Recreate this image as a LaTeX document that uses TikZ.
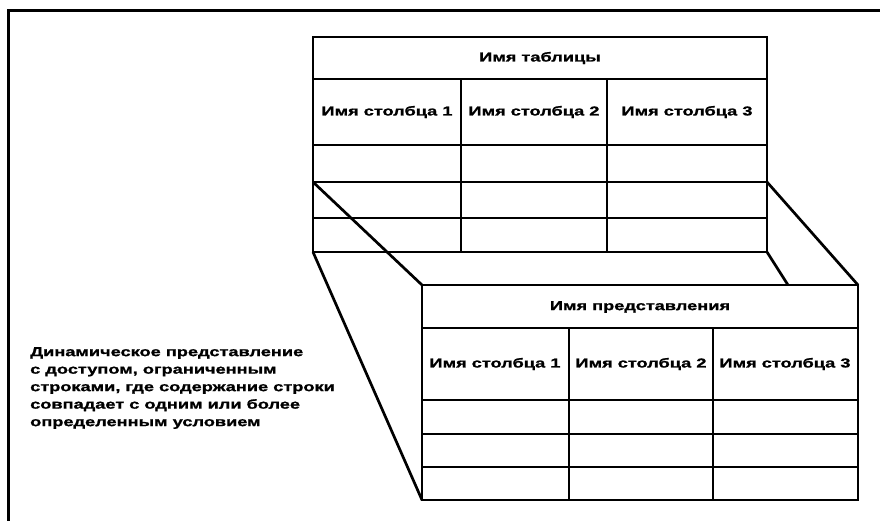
\documentclass[tikz,border=0pt]{standalone}
\usepackage{fontspec}
\setmainfont{Liberation Sans}
\newfontfamily\widesans[FakeStretch=1.4, BoldFeatures={FakeBold=1.2}]{Liberation Sans}
\tikzset{
  rule/.style={line width=2.7pt},
  frame/.style={line width=3pt},
  caption/.style={font=\widesans\bfseries\fontsize{13}{17.5}\selectfont, inner sep=0pt}
}
\begin{document}
\begin{tikzpicture} [x=1pt, y=-1pt]
    \useasboundingbox (0,0) rectangle (880,520);
    \draw [frame] (8,540) -- (8,10) -- (900,10);

    % base table
    \coordinate (tnw) at (313,37);
    \coordinate (tse) at (767,252);
    \draw [rule] (tnw) rectangle (tse);
    \foreach \y in {79,145,182,218}
      \draw [rule] (313,\y) -- (767,\y);
    \foreach \x in {461,607}
      \draw [rule] (\x,79) -- (\x,252);
    \node [caption] (tname) at (540,58) {Имя таблицы};
    \node [caption] (tcol1) at (387,112) {Имя столбца 1};
    \node [caption] (tcol2) at (534,112) {Имя столбца 2};
    \node [caption] (tcol3) at (687,112) {Имя столбца 3};

    % view
    \coordinate (vnw) at (422,285);
    \coordinate (vse) at (858,500);
    \draw [rule] (vnw) rectangle (vse);
    \foreach \y in {328,400,434,467}
      \draw [rule] (422,\y) -- (858,\y);
    \foreach \x in {569,713}
      \draw [rule] (\x,328) -- (\x,500);
    \node [caption] (vname) at (640,307) {Имя представления};
    \node [caption] (vcol1) at (495,364) {Имя столбца 1};
    \node [caption] (vcol2) at (641,364) {Имя столбца 2};
    \node [caption] (vcol3) at (785,364) {Имя столбца 3};

    % projection lines
    \coordinate (tl) at (313,182);
    \coordinate (tr) at (767,182);
    \coordinate (bl) at (313,252);
    \coordinate (br) at (767,252);
    \coordinate (vne) at (858,285);
    \coordinate (vsw) at (422,500);
    \coordinate (vtop) at (788,285);
    \draw [rule] (tl) -- (vnw);
    \draw [rule] (tr) -- (vne);
    \draw [rule] (bl) -- (vsw);
    \draw [rule] (br) -- (vtop);

    \node [caption, anchor=north west, align=left] (note) at (30,347)
      {Динамическое представление\\с доступом, ограниченным\\строками, где содержание строки\\совпадает с одним или более\\определенным условием};
  \end{tikzpicture}
\end{document}
